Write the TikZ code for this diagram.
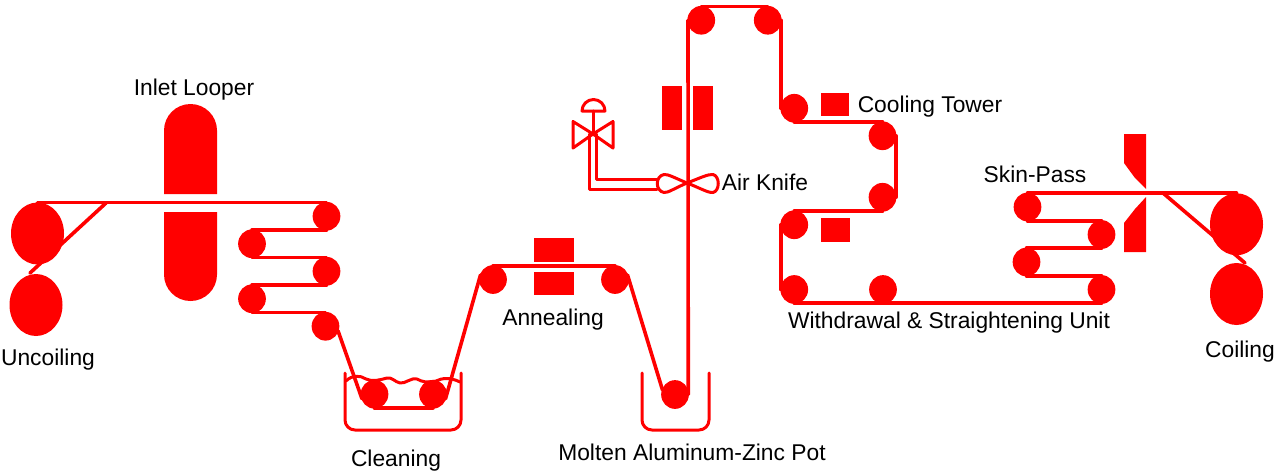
\documentclass[tikz,border=0pt]{standalone}
\usepackage{fontspec}
\setmainfont{Liberation Sans}
\usetikzlibrary{shapes.geometric}
\definecolor{strip}{RGB}{255,0,0}
\tikzset{
  roller/.style={ellipse,fill=strip,draw=strip,line width=1.2pt,inner sep=0pt,outer sep=0pt,minimum width=26.5pt,minimum height=27.5pt},
  coil/.style={ellipse,fill=strip,inner sep=0pt,outer sep=0pt,minimum width=53pt,minimum height=62pt},
  block/.style={rectangle,fill=strip,inner sep=0pt,outer sep=0pt},
  band/.style={draw=strip,line width=3.6pt,line cap=round,line join=round},
  thin band/.style={draw=strip,line width=3pt,line cap=round,line join=round},
  lbl/.style={font=\fontsize{22.8}{24}\selectfont,text=black,inner sep=0pt,anchor=center}
}
\begin{document}
\begin{tikzpicture}[x=1pt,y=-1pt]
\useasboundingbox (0,0) rectangle (1277,474);
% coils
\node[coil] (c1) at (37.5,233.5) {};
\node[coil] (c2) at (36,305) {};
\node[coil] (c3) at (1236.5,224.25) {};
\node[coil] (c4) at (1236.5,294) {};
% rollers
\node[roller] (r1) at (326.5,216.25) {};
\node[roller] (r2) at (252,243.75) {};
\node[roller] (r3) at (326.5,271.25) {};
\node[roller] (r4) at (252,298.75) {};
\node[roller] (r5) at (325.5,326.25) {};
\node[roller] (r6) at (374.5,394.25) {};
\node[roller] (r7) at (433,394.25) {};
\node[roller] (r8) at (493,279.5) {};
\node[roller] (r9) at (615,279.5) {};
\node[roller] (r10) at (675,394.5) {};
\node[roller] (r11) at (701.25,20.25) {};
\node[roller] (r12) at (767.75,20.25) {};
\node[roller] (r13) at (794.25,108.25) {};
\node[roller] (r14) at (882.5,135.75) {};
\node[roller] (r15) at (882.5,197.25) {};
\node[roller] (r16) at (794.25,224.75) {};
\node[roller] (r17) at (794.25,289.5) {};
\node[roller] (r18) at (883,289.5) {};
\node[roller] (r19) at (1101.5,289.5) {};
\node[roller] (r20) at (1026.5,262) {};
\node[roller] (r21) at (1101.5,234.5) {};
\node[roller] (r22) at (1027.5,207) {};
% free ends
\coordinate (d1) at (106,203);
\coordinate (d2) at (30,273);
\coordinate (d3) at (1163,193);
\coordinate (d4) at (1245,263);
% inlet looper
\fill[strip] (164,194) -- (164,130.5) arc[start angle=180,end angle=360,radius=26.5] -- (217,194) -- cycle;
\fill[strip] (164,212) -- (164,274.5) arc[start angle=180,end angle=0,radius=26.5] -- (217,212) -- cycle;
% furnace and other blocks
\node[block,minimum width=40pt,minimum height=24pt] (a1) at (554,250) {};
\node[block,minimum width=40pt,minimum height=23pt] (a2) at (554,283.5) {};
\node[block,minimum width=20pt,minimum height=44pt] (k1) at (672,108) {};
\node[block,minimum width=20pt,minimum height=44pt] (k2) at (703,108) {};
\node[block,minimum width=28pt,minimum height=23pt] (t1) at (835,104.5) {};
\node[block,minimum width=29pt,minimum height=24pt] (t2) at (835.5,230) {};
% skin-pass
\fill[strip] (1124,134) -- (1146,134) -- (1146,189) -- (1135,178) -- (1124,163) -- cycle;
\fill[strip] (1146,197) -- (1146,252) -- (1124,252) -- (1124,223) -- (1135,209) -- cycle;
% strip path
\draw[band] (c1.north) -- (r1.north);
\draw[band] (d1) -- (d2);
\draw[band] (r1.south) -- (r2.north);
\draw[band] (r2.south) -- (r3.north);
\draw[band] (r3.south) -- (r4.north);
\draw[band] (r4.south) -- (r5.north);
\draw[band] (r5.-20) -- (r6.200);
\draw[band] (r6.south) -- (r7.south);
\draw[band] (r7.-20) -- (r8.160);
\draw[band] (r8.north) -- (r9.north);
\draw[band] (r9.20) -- (r10.160);
\draw[band] (r10.east) -- (r11.west);
\draw[band] (r11.north) -- (r12.north);
\draw[band] (r12.east) -- (r13.west);
\draw[band] (r13.south) -- (r14.north);
\draw[band] (r14.east) -- (r15.east);
\draw[band] (r15.south) -- (r16.north);
\draw[band] (r16.west) -- (r17.west);
\draw[band] (r17.south) -- (r19.south);
\draw[band] (r19.north) -- (r20.south);
\draw[band] (r20.north) -- (r21.south);
\draw[band] (r21.north) -- (r22.south);
\draw[band] (r22.north) -- (c3.north);
\draw[band] (d3) -- (d4);
% cleaning tank
\draw[thin band] (345,373) -- (345,420) arc[start angle=180,end angle=90,radius=10] -- (451,430) arc[start angle=90,end angle=0,radius=10] -- (461,373);
\draw[thin band] (346,381) .. controls (352,375) and (360,375) .. (366,379) .. controls (372,382) and (380,380) .. (387,378) .. controls (392,377) and (395,382) .. (400,383) .. controls (405,384) and (412,377) .. (417,379) .. controls (422,382) and (428,383) .. (436,381) .. controls (442,378) and (450,377) .. (460,382);
% zinc pot
\draw[thin band] (642,373) -- (642,420) arc[start angle=180,end angle=90,radius=10] -- (699,430) arc[start angle=90,end angle=0,radius=10] -- (709,373);
% air knife
\draw[thin band] (687,183) .. controls (675,178) and (668,174) .. (664,174.5) .. controls (655,176) and (655,191) .. (664,192.5) .. controls (668,193) and (675,188) .. (687,183) .. controls (700,188) and (708,193) .. (713,192.5) .. controls (720,191) and (720,176) .. (713,174.5) .. controls (708,174) and (700,178) .. (687,183) -- cycle;
\draw[thin band] (657,179) -- (596,179) -- (596,134);
\draw[thin band] (657,189) -- (589,189) -- (589,134);
% valve
\draw[thin band] (593,134) -- (573,121.5) -- (573,148) -- cycle;
\draw[thin band] (593,134) -- (613,121.5) -- (613,148) -- cycle;
\draw[thin band] (593,134) -- (593,111);
\draw[thin band] (582,111) arc[start angle=180,end angle=360,radius=11.5] -- cycle;
% labels
\node[lbl] (l1) at (194,90) {Inlet Looper};
\node[lbl] (l2) at (48,360) {Uncoiling};
\node[lbl] (l3) at (396,460.5) {Cleaning};
\node[lbl] (l4) at (553,319.5) {Annealing};
\node[lbl] (l5) at (692,452) {Molten Aluminum-Zinc Pot};
\node[lbl] (l6) at (765,182.5) {Air Knife};
\node[lbl] (l7) at (930,106.5) {Cooling Tower};
\node[lbl] (l8) at (1035,174) {Skin-Pass};
\node[lbl] (l9) at (949,322.5) {Withdrawal \& Straightening Unit};
\node[lbl] (l10) at (1240,351.5) {Coiling};
\end{tikzpicture}
\end{document}
